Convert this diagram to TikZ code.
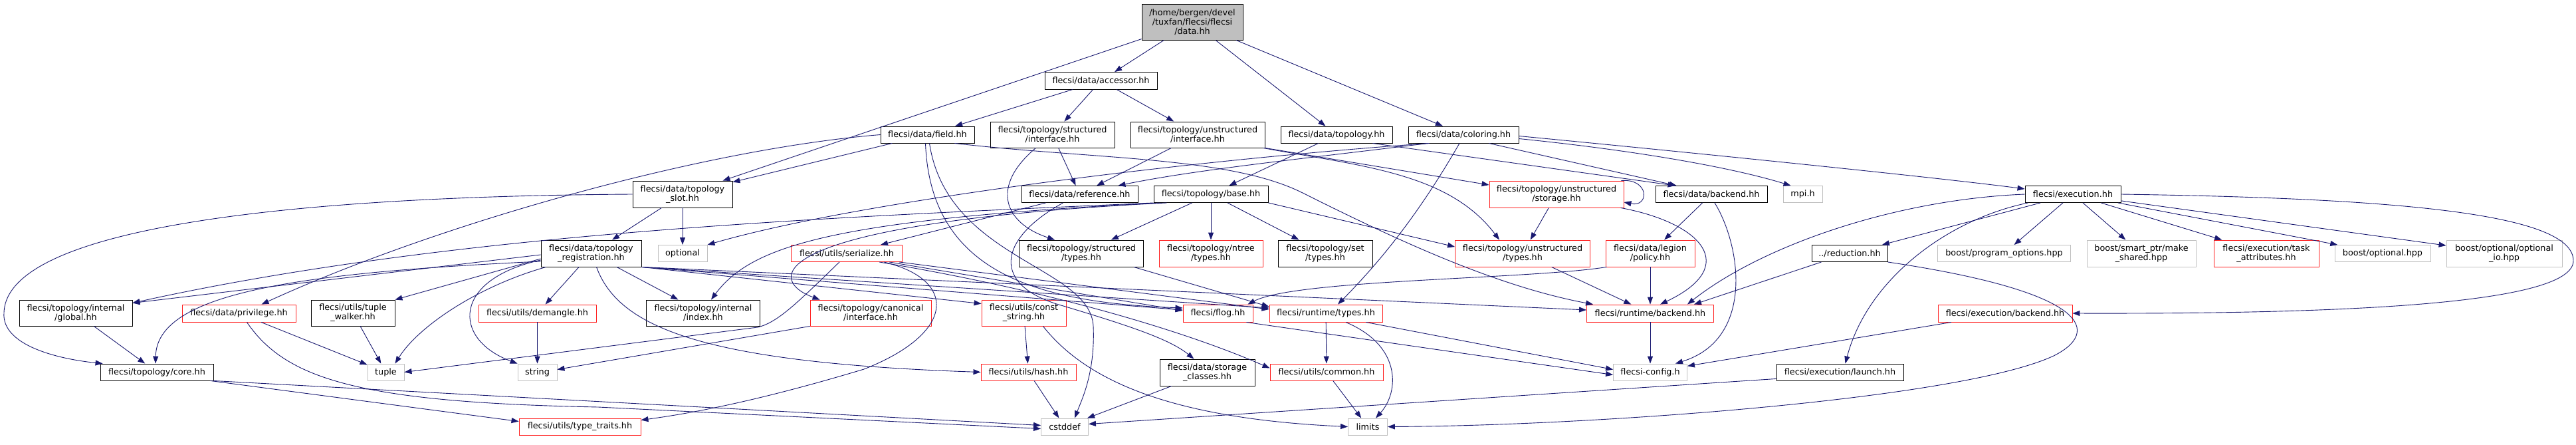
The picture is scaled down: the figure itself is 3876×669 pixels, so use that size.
\documentclass[tikz,border=0pt]{standalone}
\usepackage{fontspec}
\newfontfamily\dvs{DejaVu Sans}
\usetikzlibrary{arrows.meta,calc}
\definecolor{edgec}{HTML}{191970}
\definecolor{grayb}{HTML}{BFBFBF}
\definecolor{redb}{HTML}{FF2020}
\newcommand\gnode[6]{\node[#1,minimum width=#4pt,minimum height=#5pt] (#2) at (#3) {#6};}
\begin{document}
\begin{tikzpicture}[x=1pt,y=-1pt,
  box/.style={draw=black,line width=0.9pt,inner sep=0pt,align=center,text=black,
    font=\dvs\fontsize{12.8}{14}\selectfont},
  redbox/.style={box,draw=redb},
  graybox/.style={box,draw=grayb},
  topbox/.style={box,fill=grayb},
  edge/.style={draw=edgec,line width=0.9pt,-{Triangle[length=11pt,width=8pt]}}]
\useasboundingbox (0,0) rectangle (3876,669);
% ---------------- nodes ----------------
\gnode{topbox}{data}{1794,33}{152}{54}{/home/bergen/devel\\/tuxfan/flecsi/flecsi\\/data.hh}
\gnode{box}{accessor}{1656.5,121.3}{169}{25.5}{flecsi/data/accessor.hh}
\gnode{box}{slot}{1027,292}{150}{40}{flecsi/data/topology\\\_slot.hh}
\gnode{box}{dtopology}{2011,202.5}{168}{25}{flecsi/data/topology.hh}
\gnode{box}{coloring}{2202,202.5}{166}{25}{flecsi/data/coloring.hh}
\gnode{box}{field}{1395.5,202.5}{141}{25}{flecsi/data/field.hh}
\gnode{box}{sinterface}{1583.5,202.5}{187}{39}{flecsi/topology/structured\\/interface.hh}
\gnode{box}{uinterface}{1802,202.5}{202}{39}{flecsi/topology/unstructured\\/interface.hh}
\gnode{box}{reference}{1624.5,292}{175}{25}{flecsi/data/reference.hh}
\gnode{box}{base}{1822,292}{172}{25}{flecsi/topology/base.hh}
\gnode{redbox}{ustorage}{2342,292}{202}{40}{flecsi/topology/unstructured\\/storage.hh}
\gnode{box}{dbackend}{2575,292}{168}{25}{flecsi/data/backend.hh}
\gnode{graybox}{mpi}{2712.5,292}{59}{25}{mpi.h}
\gnode{box}{execution}{3119,292}{144}{25}{flecsi/execution.hh}
\gnode{box}{registration}{889.5,381}{151}{40}{flecsi/data/topology\\\_registration.hh}
\gnode{graybox}{optional}{1027,381}{74}{25}{optional}
\gnode{redbox}{serialize}{1274,381}{167}{25}{flecsi/utils/serialize.hh}
\gnode{box}{stypes}{1627,381}{187}{40}{flecsi/topology/structured\\/types.hh}
\gnode{redbox}{ntree}{1822,381}{156}{40}{flecsi/topology/ntree\\/types.hh}
\gnode{box}{settypes}{1994,381}{142}{40}{flecsi/topology/set\\/types.hh}
\gnode{redbox}{utypes}{2291,381}{203}{40}{flecsi/topology/unstructured\\/types.hh}
\gnode{redbox}{policy}{2483,381}{134}{40}{flecsi/data/legion\\/policy.hh}
\gnode{box}{reduction}{2783,381}{114}{25}{../reduction.hh}
\gnode{graybox}{progopt}{3015.5,381}{200}{25}{boost/program\_options.hpp}
\gnode{graybox}{smartptr}{3222,381}{164}{40}{boost/smart\_ptr/make\\\_shared.hpp}
\gnode{redbox}{taskattr}{3410,381}{158}{40}{flecsi/execution/task\\\_attributes.hh}
\gnode{graybox}{boostopt}{3585,381}{144}{25}{boost/optional.hpp}
\gnode{graybox}{optio}{3768,381}{174}{40}{boost/optional/optional\\\_io.hpp}
\gnode{box}{global}{114,470.5}{170}{39}{flecsi/topology/internal\\/global.hh}
\gnode{redbox}{privilege}{359.5,471}{171}{26}{flecsi/data/privilege.hh}
\gnode{box}{tuplewalker}{531,470.5}{126}{39}{flecsi/utils/tuple\\\_walker.hh}
\gnode{redbox}{demangle}{808.5,471}{177}{26}{flecsi/utils/demangle.hh}
\gnode{box}{index}{1058,470.5}{171}{39}{flecsi/topology/internal\\/index.hh}
\gnode{redbox}{canonical}{1310,470.5}{182}{39}{flecsi/topology/canonical\\/interface.hh}
\gnode{redbox}{conststring}{1540.5,470.5}{127}{39}{flecsi/utils/const\\\_string.hh}
\gnode{redbox}{flog}{1832.5,471}{105}{26}{flecsi/flog.hh}
\gnode{redbox}{rtypes}{1995,471}{170}{26}{flecsi/runtime/types.hh}
\gnode{redbox}{rbackend}{2483,471}{191}{26}{flecsi/runtime/backend.hh}
\gnode{redbox}{ebackend}{3017,471}{202}{26}{flecsi/execution/backend.hh}
\gnode{box}{core}{236,559.5}{170}{25}{flecsi/topology/core.hh}
\gnode{graybox}{tuple}{580.5,559.5}{55}{25}{tuple}
\gnode{graybox}{string}{808.5,559.5}{59}{25}{string}
\gnode{redbox}{hash}{1547.5,559.5}{143}{25}{flecsi/utils/hash.hh}
\gnode{box}{storage}{1816.5,560}{143}{40}{flecsi/data/storage\\\_classes.hh}
\gnode{redbox}{common}{1996,559.5}{170}{25}{flecsi/utils/common.hh}
\gnode{graybox}{config}{2483,559.5}{111}{25}{flecsi-config.h}
\gnode{box}{launch}{2768.5,559.5}{191}{25}{flecsi/execution/launch.hh}
\gnode{redbox}{typetraits}{872.5,641.5}{183}{25}{flecsi/utils/type\_traits.hh}
\gnode{graybox}{cstddef}{1602,641.5}{71}{25}{cstddef}
\gnode{graybox}{limits}{2058,641.5}{59}{25}{limits}
% ---------------- edges ----------------
% data.hh
\draw[edge] (data) -- (accessor);
\draw[edge] (data) -- (slot);
\draw[edge] (data) -- (dtopology);
\draw[edge] (data) -- (coloring);
% accessor
\draw[edge] (accessor) -- (field);
\draw[edge] (accessor) -- (sinterface);
\draw[edge] (accessor) -- (uinterface);
% field
\draw[edge] (field) -- (slot);
\draw[edge] (field.west) .. controls (1050,225) and (650,340) .. ($(privilege.north)+(34,0)$);
\draw[edge] ($(field.south)+(3,0)$) .. controls (1425,390) and (1640,400) .. (1645,490) .. controls (1648,560) and (1628,600) .. ($(cstddef.north)+(15,0)$);
\draw[edge] ($(field.south)+(-3,0)$) .. controls (1400,410) and (1560,455) .. ($(flog.west)+(0,-8)$);
\draw[edge] ($(field.south east)+(-30,0)$) .. controls (1650,240) and (1850,235) .. (1960,290) .. controls (2100,360) and (2250,430) .. ($(rbackend.north west)+(10,0)$);
% structured interface
\draw[edge] (sinterface) -- (reference);
\draw[edge] ($(sinterface.south)+(-25,0)$) .. controls (1490,280) and (1510,335) .. ($(stypes.north)+(-40,0)$);
% unstructured interface
\draw[edge] (uinterface) -- (reference);
\draw[edge] (uinterface.south east) -- ($(ustorage.west)+(0,-14)$);
\draw[edge] ($(uinterface.south east)+(-3,0)$) .. controls (2050,250) and (2180,260) .. ($(utypes.north)+(-35,0)$);
% reference
\draw[edge] (reference) -- (serialize);
\draw[edge] ($(reference.south)+(-25,0)$) .. controls (1500,360) and (1490,430) .. (1600,460) .. controls (1700,490) and (1760,510) .. ($(storage.north)+(-20,0)$);
% base
\draw[edge] (base) -- (stypes);
\draw[edge] (base) -- (ntree);
\draw[edge] (base) -- (settypes);
\draw[edge] (base.south east) -- ($(utypes.west)+(0,-10)$);
\draw[edge] (base.south west) .. controls (1300,325) and (700,345) .. ($(global.east)+(0,-15)$);
\draw[edge] ($(base.south west)+(10,0)$) .. controls (1250,330) and (1130,370) .. ($(index.north)+(12,0)$);
\draw[edge] ($(base.south west)+(20,0)$) .. controls (1150,335) and (1150,420) .. ($(canonical.north west)+(15,0)$);
% data/topology
\draw[edge] (dtopology) -- (base);
\draw[edge] ($(dtopology.south east)+(-30,0)$) -- ($(dbackend.north west)+(30,0)$);
% coloring
\draw[edge] ($(coloring.south west)+(30,0)$) .. controls (1950,240) and (1800,255) .. ($(reference.north east)+(-30,0)$);
\draw[edge] ($(coloring.south west)+(32,0)$) .. controls (1800,240) and (1300,300) .. (optional.north east);
\draw[edge] ($(coloring.south east)+(-45,0)$) -- ($(dbackend.north west)+(32,0)$);
\draw[edge] ($(coloring.east)+(0,6)$) .. controls (2450,225) and (2600,250) .. ($(mpi.north)+(-18,0)$);
\draw[edge] ($(coloring.east)+(0,2)$) .. controls (2500,225) and (2900,265) .. ($(execution.west)+(0,-8)$);
\draw[edge] ($(coloring.south)+(-6,0)$) .. controls (2130,330) and (2070,400) .. ($(rtypes.north)+(18,0)$);
% topology_slot
\draw[edge] (slot) -- (registration);
\draw[edge] (slot) -- (optional);
\draw[edge] (slot.west) .. controls (450,295) and (10,340) .. (6,470) .. controls (2,520) and (90,540) .. ($(core.north west)+(4,0)$);
% topology_registration
\draw[edge] ($(registration.west)+(0,2)$) -- ($(global.east)+(0,-15)$);
\draw[edge] ($(registration.west)+(0,12)$) .. controls (450,410) and (236,440) .. ($(core.north)+(-2,0)$);
\draw[edge] ($(registration.west)+(0,8)$) -- (tuplewalker.north east);
\draw[edge] ($(registration.south west)+(8,0)$) .. controls (720,430) and (630,490) .. ($(tuple.north east)+(-14,0)$);
\draw[edge] ($(registration.west)+(0,10)$) .. controls (680,420) and (680,510) .. (string.north west);
\draw[edge] (registration) -- (demangle);
\draw[edge] (registration) -- (index);
\draw[edge] (registration.south east) -- ($(conststring.west)+(0,-14)$);
\draw[edge] ($(registration.south)+(8,0)$) .. controls (930,490) and (1050,545) .. (hash.west);
\draw[edge] (registration.south east) -- ($(flog.west)+(0,-5)$);
\draw[edge] (registration.south east) -- ($(rtypes.west)+(0,-8)$);
\draw[edge] (registration.south east) -- ($(rbackend.west)+(0,-5)$);
% serialize
\draw[edge] ($(serialize.south)+(-11,0)$) .. controls (1200,455) and (1170,485) .. (1140,492) -- (tuple.east);
\draw[edge] ($(serialize.south east)+(-28,0)$) .. controls (1440,420) and (1440,500) .. (1300,555) .. controls (1150,600) and (1050,620) .. ($(typetraits.north east)+(0,3)$);
\draw[edge] ($(serialize.south east)+(-20,0)$) -- ($(flog.west)+(0,-4)$);
\draw[edge] ($(serialize.south east)+(-5,0)$) -- ($(rtypes.west)+(0,-6)$);
\draw[edge] ($(serialize.south east)+(-35,0)$) .. controls (1600,440) and (1800,505) .. ($(common.west)+(0,-6)$);
% structured types
\draw[edge] ($(stypes.south east)+(-15,0)$) -- ($(rtypes.west)+(0,-10)$);
% unstructured storage / types
\draw[edge] (utypes) -- (rbackend);
\draw[edge] (ustorage) -- (utypes);
\draw[edge] ($(ustorage.south east)+(-5,0)$) .. controls (2560,335) and (2620,400) .. ($(rbackend.north)+(15,0)$);
\draw[edge] ($(ustorage.north east)+(-4,0)$) .. controls (2482,268) and (2482,312) .. ($(ustorage.east)+(0,12)$);
% data backend / policy
\draw[edge] (dbackend) -- (policy);
\draw[edge] ($(dbackend.south)+(5,0)$) .. controls (2620,370) and (2640,510) .. ($(config.north east)+(-18,0)$);
\draw[edge] (policy) -- (rbackend);
\draw[edge] ($(policy.south west)+(2,0)$) .. controls (2300,420) and (1950,420) .. ($(flog.north east)+(-8,0)$);
% execution
\draw[edge] (execution) -- (reduction);
\draw[edge] (execution) -- (progopt);
\draw[edge] (execution) -- (smartptr);
\draw[edge] (execution) -- (taskattr);
\draw[edge] (execution) -- (boostopt);
\draw[edge] (execution) -- (optio);
\draw[edge] (execution.west) .. controls (2850,300) and (2650,370) .. ($(rbackend.north east)+(-40,0)$);
\draw[edge] ($(execution.south west)+(5,0)$) .. controls (2930,330) and (2810,420) .. ($(launch.north)+(8,0)$);
\draw[edge] (execution.east) .. controls (3600,298) and (3872,320) .. (3872,392) .. controls (3872,460) and (3500,472) .. (ebackend.east);
% reduction
\draw[edge] ($(reduction.south west)+(15,0)$) -- ($(rbackend.north east)+(-30,0)$);
\draw[edge] (reduction.south east) .. controls (3150,440) and (3160,500) .. (3090,535) .. controls (2950,600) and (2400,640) .. (limits.east);
% lower level
\draw[edge] (ebackend) -- (config);
\draw[edge] ($(launch.south west)+(0,-3)$) -- ($(cstddef.east)+(0,-4)$);
\draw[edge] (conststring) -- (hash);
\draw[edge] ($(conststring.south east)+(-35,0)$) .. controls (1640,580) and (1780,630) .. (limits.west);
\draw[edge] ($(rtypes.south east)+(-25,0)$) -- ($(config.west)+(0,-4)$);
\draw[edge] (rtypes) -- (common);
\draw[edge] ($(rtypes.south)+(30,0)$) .. controls (2110,520) and (2105,590) .. ($(limits.north)+(12,0)$);
\draw[edge] ($(flog.south east)+(-10,0)$) -- ($(config.west)+(0,4)$);
\draw[edge] (rbackend) -- (config);
\draw[edge] (common) -- (limits);
\draw[edge] (hash) -- (cstddef);
\draw[edge] (storage) -- (cstddef);
\draw[edge] (core.south east) -- ($(cstddef.west)+(0,-2)$);
\draw[edge] ($(core.south east)+(-5,0)$) -- ($(typetraits.west)+(0,-8)$);
\draw[edge] ($(privilege.south)+(12,0)$) .. controls (430,570) and (540,605) .. (900,612) -- ($(cstddef.west)+(0,3)$);
\draw[edge] (privilege) -- (tuple);
\draw[edge] (tuplewalker) -- (tuple);
\draw[edge] (global) -- (core);
\draw[edge] (demangle) -- (string);
\draw[edge] (canonical.south west) -- ($(string.east)+(0,-4)$);
\end{tikzpicture}
\end{document}
